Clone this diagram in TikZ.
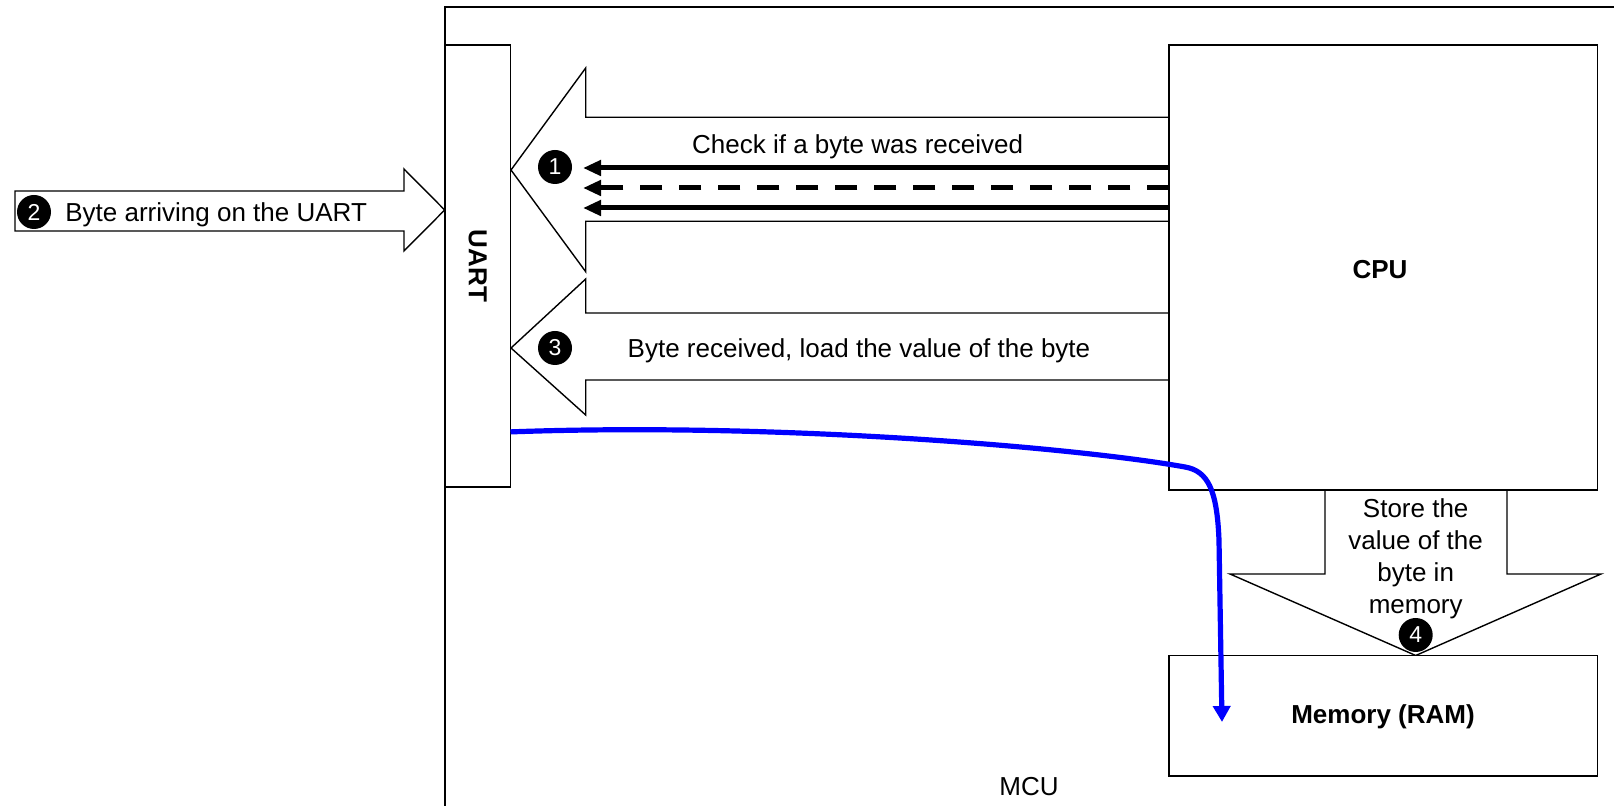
\documentclass[tikz,border=0pt]{standalone}
\usepackage{fontspec}
\setmainfont{Liberation Sans}
\usepackage{xcolor}
\definecolor{mcublue}{HTML}{0000FF}
\usepackage{tikz}
\usetikzlibrary{arrows.meta,positioning,fit,calc}
\newcommand{\mcufont}{\fontsize{13}{16}\selectfont}

\begin{document}
\begin{tikzpicture}[x=0.5pt,y=-0.5pt,
  every node/.style={font=\mcufont},
  unit/.style={draw,line width=0.9pt,fill=white,inner sep=0pt,outer sep=0pt},
  blockarrow/.style={draw,line width=0.7pt,fill=white,line join=miter},
  badge/.style={circle,fill=black,text=white,inner sep=0pt,minimum size=17pt,
    font=\fontsize{11.5}{12}\selectfont},
  pull/.style={line width=2.5pt,-{Triangle[length=9pt,width=7.5pt]}},
  flow/.style={line width=2.6pt,mcublue,-{Triangle[length=8pt,width=8.5pt]}}]
\useasboundingbox (0,0) rectangle (1614,806);
\clip (0,0) rectangle (1614,806);

% the MCU frame runs off the page on the right and at the bottom
\node[unit, fit={(444.7,7) (1660,860)}] (mcu) {};
\node (mculabel) at (1029,787) {MCU};

% block arrows
\draw[blockarrow] (15,191) -- (404,191) -- (404,169) -- (444.7,210)
  -- (404,251) -- (404,231) -- (15,231) -- cycle;
\draw[blockarrow] (511,170) -- (585.7,68) -- (585.7,117.3) -- (1169.3,117.3)
  -- (1169.3,221.3) -- (585.7,221.3) -- (585.7,271.7) -- cycle;
\draw[blockarrow] (511,348) -- (585.7,279) -- (585.7,313) -- (1169.3,313)
  -- (1169.3,380) -- (585.7,380) -- (585.7,415) -- cycle;
\draw[blockarrow] (1325,490) -- (1325,574) -- (1230,574) -- (1415.7,655.5)
  -- (1601,574) -- (1507,574) -- (1507,490) -- cycle;

% blocks
\node[unit, fit={(444.7,45.3) (510.5,486.9)}] (uart) {};
\node[rotate=-90, font=\mcufont\bfseries] (uartlabel) at (uart.center) {UART};
\node[unit, fit={(1169.3,45.3) (1597.5,490)}] (cpu) {};
\node[font=\mcufont\bfseries] (cpulabel) at (1380,270) {CPU};
\node[unit, fit={(1169.3,655.5) (1597.5,776)}] (ram) {};
\node[font=\mcufont\bfseries] (ramlabel) at (1383,717) {Memory (RAM)};

% polling lines
\coordinate (chk1) at (583,168);
\coordinate (chk2) at (583,188);
\coordinate (chk3) at (583,208);
\draw[pull] (cpu.west |- chk1) -- (chk1);
\draw[pull, dash pattern=on 11pt off 8.5pt] (cpu.west |- chk2) -- (chk2);
\draw[pull] (cpu.west |- chk3) -- (chk3);

% texts and step numbers
\node (chktext) at (857.6,147) {Check if a byte was received};
\node (loadtext) at (859,351) {Byte received, load the value of the byte};
\node[anchor=west, inner sep=0pt] (rxtext) at (65,215) {Byte arriving on the UART};
\node[align=center] (storetext) at (1415.7,559) {Store the\\value of the\\byte in\\memory};
\node[badge] (n1) at (555,167) {1};
\node[badge] (n2) at (34,212) {2};
\node[badge] (n3) at (555,348) {3};
\node[badge] (n4) at (1415.7,635) {4};

% data path from the UART into memory
\coordinate (drop) at (1222,722);
\draw[flow] ($(uart.south east)+(0,-55)$) .. controls (780,422) and (1080,448) .. (1185,467)
  .. controls (1208,471) and (1217,490) .. (1219,540) -- (drop);
\end{tikzpicture}
\end{document}
